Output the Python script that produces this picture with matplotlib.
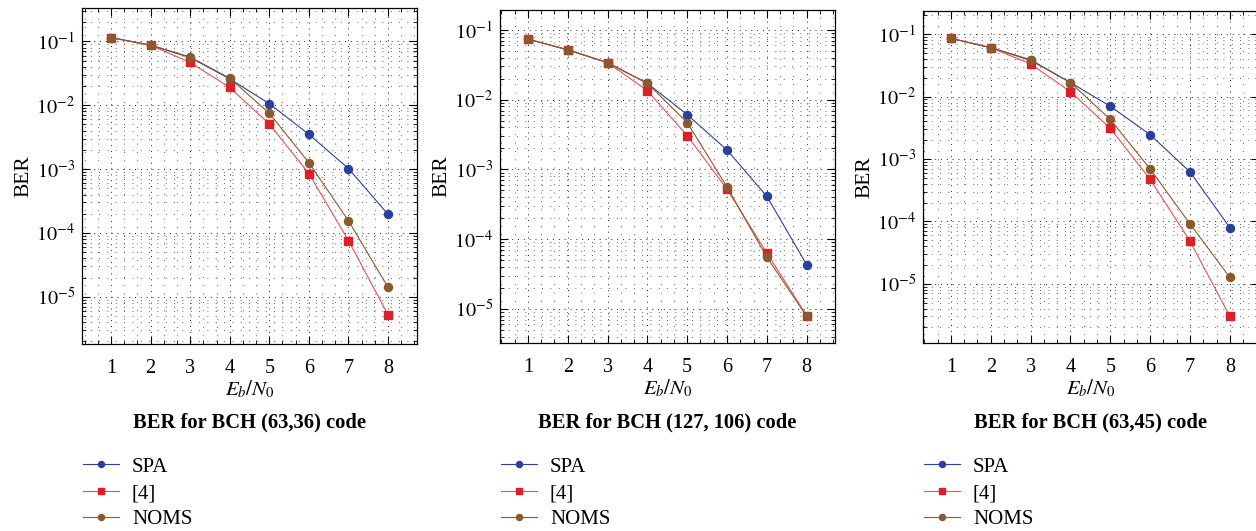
import math
import matplotlib
matplotlib.use('Agg')
import matplotlib.pyplot as plt
from matplotlib.ticker import LogLocator, MultipleLocator, NullFormatter, FuncFormatter

plt.rcParams['font.family'] = ['Liberation Serif', 'DejaVu Serif']
plt.rcParams['mathtext.fontset'] = 'stix'

# Eb/N0 points
ebn0 = [1, 2, 3, 4, 5, 6, 7, 8]

# BCH (63,36)
spa_63_36 = [0.115, 0.087, 0.056, 0.026, 0.0106, 0.0035, 0.00102, 0.000195]
ref4_63_36 = [0.115, 0.087, 0.047, 0.019, 0.0051, 0.00085, 7.6e-5, 5.2e-6]
noms_63_36 = [0.115, 0.088, 0.057, 0.0266, 0.0075, 0.00126, 1.55e-4, 1.4e-5]

# BCH (127,106)
spa_127_106 = [0.074, 0.052, 0.034, 0.0172, 0.0061, 0.0019, 4.1e-4, 4.3e-5]
ref4_127_106 = [0.074, 0.052, 0.034, 0.0135, 0.00305, 5.2e-4, 6.3e-5, 8.0e-6]
noms_127_106 = [0.074, 0.052, 0.034, 0.0172, 0.0047, 5.6e-4, 5.5e-5, 7.8e-6]

# BCH (63,45)
spa_63_45 = [0.086, 0.061, 0.039, 0.0168, 0.0070, 0.00245, 6.2e-4, 7.9e-5]
ref4_63_45 = [0.086, 0.061, 0.0334, 0.012, 0.0031, 4.7e-4, 4.8e-5, 3.0e-6]
noms_63_45 = [0.086, 0.061, 0.038, 0.0168, 0.0043, 6.9e-4, 9.1e-5, 1.26e-5]

titles = ['BER for BCH (63,36) code', 'BER for BCH (127, 106) code', 'BER for BCH (63,45) code']
labels = ['SPA', '[4]', 'NOMS']

W, H = 1256, 531
blue = '#2b3f9f'
red = '#de1f28'
red_line = '#e8505a'
brown = '#8a5a2c'

# axes boxes in pixels: left, right, top, bottom, and plotting limits
panels = [
    (82, 417, 8, 344, (0.27, 8.73), (10**-5.74, 10**-0.476),
     spa_63_36, ref4_63_36, noms_63_36),
    (500, 835, 10, 343, (0.3, 8.71), (10**-5.49, 10**-0.713),
     spa_127_106, ref4_127_106, noms_127_106),
    (923, 1259, 11, 343, (0.3, 8.73), (10**-5.95, 10**-0.627),
     spa_63_45, ref4_63_45, noms_63_45),
]

fig = plt.figure(figsize=(W / 100, H / 100), dpi=100)

def sci(v, pos):
    e = int(round(math.log10(v)))
    return r'$10^{%d}$' % e

for i, (l, r, t, b, xl, yl, spa, ref4, noms) in enumerate(panels):
    ax = fig.add_axes([l / W, 1 - b / H, (r - l) / W, (b - t) / H])
    ax.set_yscale('log')
    ax.set_xlim(*xl)
    ax.set_ylim(*yl)

    h1, = ax.plot(ebn0, spa, '-o', color=blue, lw=0.8, ms=5.8, zorder=3)
    h2, = ax.plot(ebn0, ref4, '-s', color=red_line, mfc=red, mec=red,
                  lw=0.8, ms=6.0, zorder=4)
    h3, = ax.plot(ebn0, noms, '-o', color=brown, lw=0.8, ms=5.8, zorder=5)

    ax.xaxis.set_major_locator(MultipleLocator(1))
    ax.xaxis.set_minor_locator(MultipleLocator(1 / 3))
    ax.yaxis.set_major_locator(LogLocator(base=10, numticks=20))
    ax.yaxis.set_minor_locator(LogLocator(base=10, subs=range(2, 10), numticks=20))
    ax.yaxis.set_major_formatter(FuncFormatter(sci))
    ax.yaxis.set_minor_formatter(NullFormatter())

    ax.grid(True, which='major', color='#222222', lw=0.7, linestyle=(0, (1, 5)))
    ax.grid(True, which='minor', color='#333333', lw=0.6, linestyle=(0, (1, 9)))
    ax.tick_params(which='both', direction='in', top=True, right=True, labelsize=14.5)
    ax.tick_params(axis='x', which='major', pad=11)
    ax.tick_params(axis='y', which='major', pad=5)
    ax.tick_params(which='major', length=6, width=0.8)
    ax.tick_params(which='minor', length=3, width=0.6)
    for s in ax.spines.values():
        s.set_linewidth(0.9)

    ax.set_ylabel('BER', fontsize=15.5, labelpad=2)
    ax.set_xlabel(r'$E_b/N_0$', fontsize=15, labelpad=0)

    cx = (l + r) / 2 / W
    fig.text(cx, 1 - 422 / H, titles[i], ha='center', va='center',
             fontsize=14.8, fontweight='bold')

    fig.legend([h1, h2, h3], labels, loc='upper left',
               bbox_to_anchor=((l + 1) / W, 1 - 457 / H),
               frameon=False, fontsize=15, borderpad=0, borderaxespad=0,
               handlelength=1.75, handletextpad=0.6, labelspacing=0.33,
               markerscale=0.75)

fig.savefig('out.png', dpi=100)
